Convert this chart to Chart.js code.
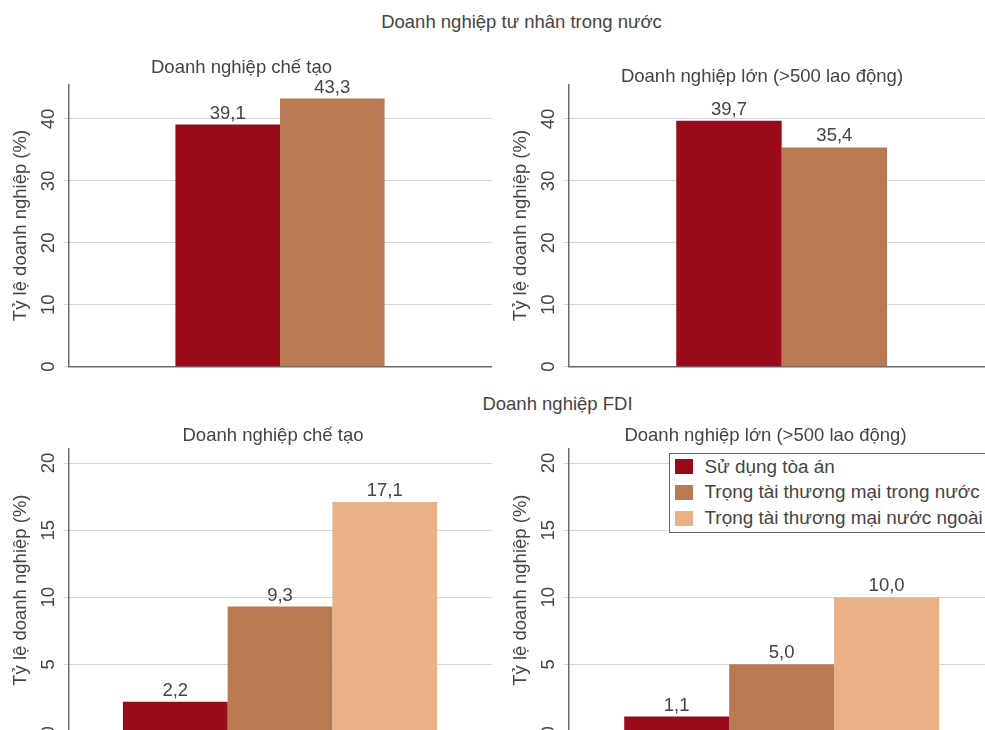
<!DOCTYPE html>
<html><head><meta charset="utf-8">
<script src="https://cdn.jsdelivr.net/npm/chart.js@4/dist/chart.umd.min.js"></script>
<style>
html,body{margin:0;padding:0;width:985px;height:730px;overflow:hidden;background:#fff;font-family:"Liberation Sans",Arial,sans-serif;color:#444}
.box{position:absolute}
.t{position:absolute;white-space:nowrap;font-size:18.5px;line-height:22px;transform:translateX(-50%);z-index:5}
#legend{position:absolute;left:668.5px;top:452.8px;width:340px;height:78px;border:1.5px solid #666;background:#fff;z-index:6;box-sizing:content-box}
.row{display:flex;align-items:center;height:25.7px;padding-left:5px;font-size:18.9px;line-height:22px;white-space:nowrap}
.sw{width:18px;height:15px;margin-right:12px;flex:none}
</style>
</head><body>
<div class="box" style="left:0;top:55px;width:495px;height:322px"><canvas id="c1"></canvas></div>
<div class="box" style="left:500px;top:55px;width:500px;height:322px"><canvas id="c2"></canvas></div>
<div class="box" style="left:0;top:420px;width:495px;height:322px"><canvas id="c3"></canvas></div>
<div class="box" style="left:500px;top:420px;width:500px;height:322px"><canvas id="c4"></canvas></div>

<div class="t" style="left:521.5px;top:10.9px">Doanh nghiệp tư nhân trong nước</div>
<div class="t" style="left:241.5px;top:55.7px">Doanh nghiệp chế tạo</div>
<div class="t" style="left:762px;top:65.2px">Doanh nghiệp lớn (&gt;500 lao động)</div>
<div class="t" style="left:557.5px;top:392.5px">Doanh nghiệp FDI</div>
<div class="t" style="left:273px;top:423.5px">Doanh nghiệp chế tạo</div>
<div class="t" style="left:765.5px;top:423.6px">Doanh nghiệp lớn (&gt;500 lao động)</div>
<div id="legend"></div>

<script>
const seriesNames = ['Sử dụng tòa án', 'Trọng tài thương mại trong nước', 'Trọng tài thương mại nước ngoài'];
const seriesColors = ['#990a1b', '#b97a53', '#e9b185'];
const domesticManufacturing = [39.1, 43.3];
const domesticLarge = [39.7, 35.4];
const fdiManufacturing = [2.2, 9.3, 17.1];
const fdiLarge = [1.1, 5.0, 10.0];
const ticksDomestic = [0, 10, 20, 30, 40];
const ticksFdi = [0, 5, 10, 15, 20];
const yTitle = 'Tỷ lệ doanh nghiệp (%)';

const FONT = '"Liberation Sans", Arial, sans-serif';
const TXT = '#444';
const fmt = v => v.toFixed(1).replace('.', ',');

const valueLabels = {
  id: 'valueLabels',
  afterDatasetsDraw(chart) {
    const ctx = chart.ctx;
    ctx.save();
    ctx.font = '18.5px ' + FONT;
    ctx.fillStyle = TXT;
    ctx.textAlign = 'center';
    ctx.textBaseline = 'alphabetic';
    chart.data.datasets.forEach((ds, i) => {
      chart.getDatasetMeta(i).data.forEach((bar, j) => {
        ctx.fillText(fmt(ds.data[j]), bar.x, bar.y - 6);
      });
    });
    ctx.restore();
  }
};

function make(id, values, yMax, yTicks, catPct, pad) {
  new Chart(document.getElementById(id), {
    type: 'bar',
    data: {
      labels: [''],
      datasets: values.map((v, i) => ({
        label: seriesNames[i], data: [v], backgroundColor: seriesColors[i],
        borderWidth: 0, barPercentage: 1, categoryPercentage: catPct
      }))
    },
    options: {
      responsive: true, maintainAspectRatio: false, animation: false,
      layout: { padding: pad },
      plugins: { legend: { display: false }, tooltip: { enabled: false }, title: { display: false } },
      scales: {
        x: {
          grid: { display: false }, ticks: { display: false },
          border: { display: true, color: '#6b6b6b', width: 1.5 },
          afterFit: s => { s.height = 0; s.paddingLeft = 0; s.paddingRight = 0; }
        },
        y: {
          min: 0, max: yMax,
          afterBuildTicks: s => { s.ticks = yTicks.map(v => ({ value: v })); },
          afterFit: s => { s.width = 68.3; s.paddingTop = 0; s.paddingBottom = 0; },
          grid: { color: '#d6d6d6', lineWidth: 1, tickLength: 5, drawTicks: true },
          border: { display: true, color: '#6b6b6b', width: 1.5 },
          ticks: { minRotation: 90, maxRotation: 90, crossAlign: 'center', padding: 4, color: TXT, font: { family: FONT, size: 18.5 } },
          title: { display: true, text: yTitle, color: TXT, font: { family: FONT, size: 18.5 }, padding: { top: 10, bottom: 0 } }
        }
      }
    },
    plugins: [valueLabels]
  });
}

make('c1', domesticManufacturing, 45.6, ticksDomestic, 0.494, { top: 29.3, right: 3.3, bottom: 10.3, left: 0 });
make('c2', domesticLarge, 45.6, ticksDomestic, 0.494, { top: 29.3, right: 5, bottom: 10.3, left: 0 });
make('c3', fdiManufacturing, 21.05, ticksFdi, 0.742, { top: 29, right: 3.3, bottom: 10.7, left: 0 });
make('c4', fdiLarge, 21.05, ticksFdi, 0.738, { top: 29, right: 5, bottom: 10.7, left: 0 });

const lg = document.getElementById('legend');
seriesNames.forEach((n, i) => {
  const r = document.createElement('div'); r.className = 'row';
  const s = document.createElement('span'); s.className = 'sw'; s.style.background = seriesColors[i];
  const t = document.createElement('span'); t.textContent = n;
  r.appendChild(s); r.appendChild(t); lg.appendChild(r);
});
</script>
</body></html>
